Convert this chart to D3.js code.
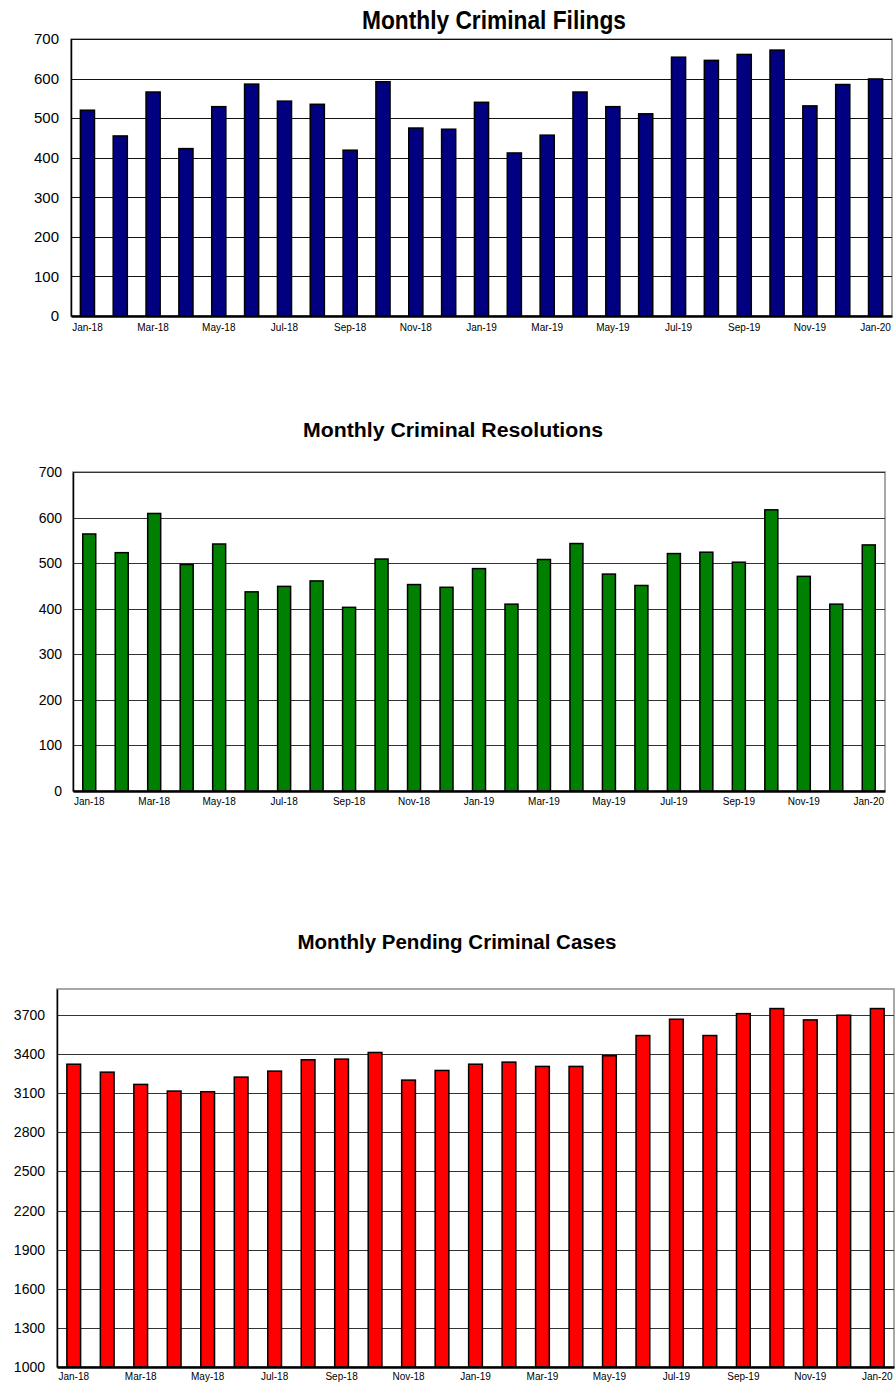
<!DOCTYPE html>
<html>

<head>
    <meta charset="utf-8">
    <title>Monthly Criminal Cases</title>
    <script src="https://d3js.org/d3.v7.min.js"></script>
    <style>
        body { margin: 0; background: #fff; }
        text { font-family: "Liberation Sans", Arial, sans-serif; fill: #000; }
    </style>
</head>

<body>
    <script>
        const months = ['Jan-18', 'Feb-18', 'Mar-18', 'Apr-18', 'May-18', 'Jun-18', 'Jul-18', 'Aug-18',
            'Sep-18', 'Oct-18', 'Nov-18', 'Dec-18', 'Jan-19', 'Feb-19', 'Mar-19', 'Apr-19', 'May-19',
            'Jun-19', 'Jul-19', 'Aug-19', 'Sep-19', 'Oct-19', 'Nov-19', 'Dec-19', 'Jan-20'];

        const filings = [520, 455, 566, 423, 529, 586, 543, 535, 419, 592, 475, 472,
            540, 412, 457, 566, 529, 511, 654, 646, 661, 672, 531, 585, 599];

        const resolutions = [564, 523, 609, 497, 542, 437, 449, 461, 403, 509, 453, 447,
            488, 410, 508, 543, 476, 451, 521, 524, 502, 617, 471, 410, 540];

        const pending = [3323, 3262, 3168, 3117, 3112, 3224, 3270, 3357, 3362, 3413, 3201, 3275,
            3323, 3339, 3306, 3306, 3388, 3543, 3668, 3543, 3711, 3750, 3663, 3699, 3750];

        const countTicks = [0, 100, 200, 300, 400, 500, 600, 700];
        const pendingTicks = [1000, 1300, 1600, 1900, 2200, 2500, 2800, 3100, 3400, 3700];

        let svg = d3.select('body')
            .append('svg')
            .attr('width', 895)
            .attr('height', 1387)

        function drawChart(opt) {
            let g = svg.append('g')

            let x = d3.scaleBand()
                .domain(months)
                .range([opt.left, opt.right])
                .paddingInner(opt.pad)
                .paddingOuter(opt.pad / 2)

            let y = d3.scaleLinear()
                .domain(opt.domain)
                .range([opt.bottom, opt.top])

            // frame (top and right in gray)
            g.append('rect')
                .attr('x', opt.left)
                .attr('y', opt.top)
                .attr('width', opt.right - opt.left)
                .attr('height', opt.bottom - opt.top)
                .attr('fill', 'none')
                .attr('stroke', '#8c8c8c')
                .attr('stroke-width', 1.5)

            // gridlines
            g.append('g')
                .selectAll('line')
                .data(opt.ticks.filter(d => d > opt.domain[0]))
                .enter()
                .append('line')
                .attr('x1', opt.left)
                .attr('x2', opt.right)
                .attr('y1', d => Math.round(y(d)) + 0.5)
                .attr('y2', d => Math.round(y(d)) + 0.5)
                .attr('stroke', opt.grid)
                .attr('stroke-width', 1)

            // bars
            g.append('g')
                .selectAll('rect')
                .data(opt.values)
                .enter()
                .append('rect')
                .attr('x', (d, i) => x(months[i]))
                .attr('y', d => y(d))
                .attr('width', x.bandwidth())
                .attr('height', d => y(opt.domain[0]) - y(d))
                .attr('fill', opt.color)
                .attr('stroke', '#000')
                .attr('stroke-width', 1.5)

            // y axis
            let yAxis = d3.axisLeft(y)
                .tickValues(opt.ticks)
                .tickFormat(d3.format('d'))
                .tickSize(0)
                .tickPadding(opt.yPad)
            let ya = g.append('g')
                .attr('transform', 'translate(' + opt.left + ',0)')
                .call(yAxis)
            ya.select('.domain').attr('stroke', '#000').attr('stroke-width', 1.5)
            ya.selectAll('text')
                .style('font-size', opt.yFont + 'px')
                .attr('fill', '#000')

            // x axis, label every other month
            let xAxis = d3.axisBottom(x)
                .tickValues(months.filter((d, i) => i % 2 === 0))
                .tickSize(0)
                .tickPadding(opt.xPad)
            let xa = g.append('g')
                .attr('transform', 'translate(0,' + opt.bottom + ')')
                .call(xAxis)
            xa.select('.domain').attr('stroke', '#000').attr('stroke-width', 2.5)
            xa.selectAll('text')
                .style('font-size', '10px')
                .attr('fill', '#000')

            // title
            g.append('text')
                .attr('x', opt.titleX)
                .attr('y', opt.titleY)
                .attr('text-anchor', 'middle')
                .attr('textLength', opt.titleW)
                .attr('lengthAdjust', 'spacingAndGlyphs')
                .style('font-size', opt.titleSize + 'px')
                .style('font-weight', 'bold')
                .text(opt.title)
        }

        drawChart({
            title: 'Monthly Criminal Filings',
            titleX: 494, titleY: 29, titleW: 264, titleSize: 25,
            values: filings, ticks: countTicks, domain: [0, 700],
            left: 71, right: 892, top: 39, bottom: 316,
            pad: 0.57, color: '#000080', grid: '#111',
            yFont: 15, yPad: 12, xPad: 8
        })

        drawChart({
            title: 'Monthly Criminal Resolutions',
            titleX: 453, titleY: 437, titleW: 300, titleSize: 20,
            values: resolutions, ticks: countTicks, domain: [0, 700],
            left: 73, right: 885, top: 472, bottom: 791,
            pad: 0.6, color: '#008000', grid: '#333',
            yFont: 14, yPad: 11, xPad: 7
        })

        drawChart({
            title: 'Monthly Pending Criminal Cases',
            titleX: 457, titleY: 949, titleW: 319, titleSize: 20,
            values: pending, ticks: pendingTicks, domain: [1000, 3900],
            left: 57, right: 894, top: 989, bottom: 1367,
            pad: 0.59, color: '#ff0000', grid: '#333',
            yFont: 14, yPad: 12, xPad: 6
        })
    </script>
</body>
</html>
